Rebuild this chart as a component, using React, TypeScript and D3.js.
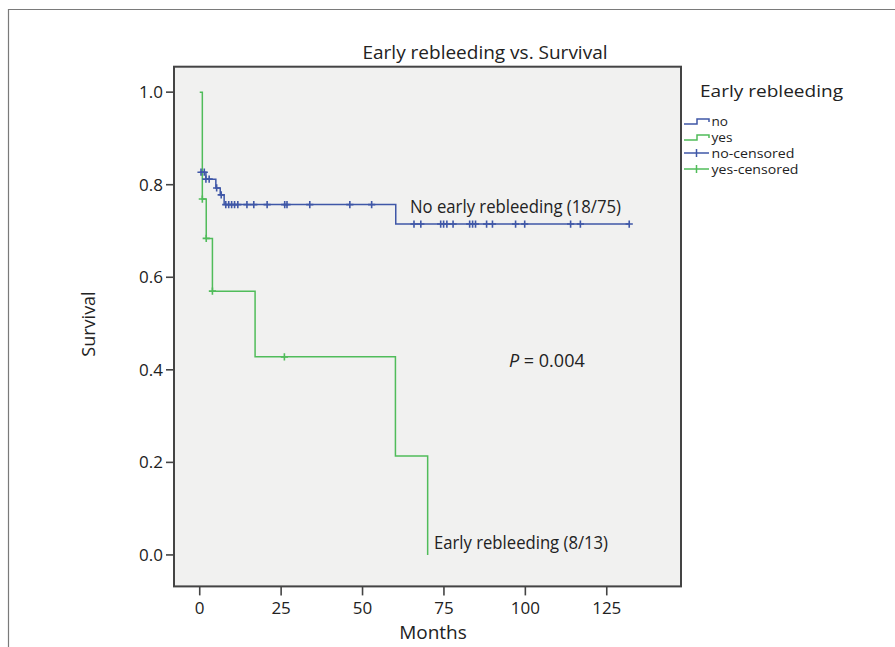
import React from 'react';
import * as d3 from 'd3';

// Kaplan-Meier steps (months, survival after the step)
const noStepTimes = [0, 1.9, 4.95, 6.3, 7.5, 60.2, 131.9];
const noStepSurv = [0.827, 0.812, 0.793, 0.778, 0.757, 0.715, 0.715];
const noCensorTimes = [
  0.4, 1.4, 1.9, 2.9, 5.2, 6.6, 8.0, 8.9, 9.8, 10.7, 11.7, 14.5, 16.6, 20.7, 26.1, 26.8, 33.8, 46.1, 52.8,
  65.8, 67.9, 74.0, 74.9, 75.9, 77.8, 82.9, 83.8, 84.7, 88.1, 89.9, 97.0, 99.8, 113.9, 116.9, 131.9
];

const yesStepTimes = [0, 0.8, 2.0, 3.9, 17.0, 60.1, 70.0];
const yesStepSurv = [1, 0.769, 0.684, 0.57, 0.428, 0.214, 0];
const yesCensorTimes = [0.8, 2.0, 3.9, 26.0];

const xTicks = [0, 25, 50, 75, 100, 125];
const yTicks = [0, 0.2, 0.4, 0.6, 0.8, 1.0];

const legendItems = ['no', 'yes', 'no-censored', 'yes-censored'];
const legendWidths = [16.5, 21, 83, 87];

const COLORS = {
  no: '#3f57a7',
  yes: '#50bc5a',
  text: '#222',
  axis: '#444',
  panel: '#f1f1f0',
  frame: '#7a7a7a'
};

const FONT = '"Open Sans", "Noto Sans", sans-serif';
const W = 895;
const H = 647;
const plot = { left: 174, top: 66.7, right: 681, bottom: 586.4 };

const x = d3.scaleLinear().domain([-7.9, 147.8]).range([plot.left, plot.right]);
const y = d3.scaleLinear().domain([-0.068, 1.055]).range([plot.bottom, plot.top]);

function survAt(times: number[], surv: number[], t: number) {
  const i = d3.bisectRight(times, t) - 1;
  return surv[Math.max(0, i)];
}

const stepLine = d3
  .line<[number, number]>()
  .x((d) => x(d[0]))
  .y((d) => y(d[1]))
  .curve(d3.curveStepAfter);

function censorPath(cx: number, cy: number, r = 3.6) {
  return `M${cx - r},${cy}h${2 * r}M${cx},${cy - r}v${2 * r}`;
}

function Curve({ times, surv, censors, color }: { times: number[]; surv: number[]; censors: number[]; color: string }) {
  const pts = times.map((t, i) => [t, surv[i]] as [number, number]);
  return (
    <g>
      <path d={stepLine(pts) || ''} fill="none" stroke={color} strokeWidth={1.5} />
      {censors.map((t, i) => (
        <path key={i} d={censorPath(x(t), y(survAt(times, surv, t)))} stroke={color} strokeWidth={1.6} fill="none" />
      ))}
    </g>
  );
}

export default function App() {
  const legendX = 684;
  const legendRows = [125, 141, 157, 173];

  return (
    <svg width={W} height={H} style={{ position: 'absolute', left: 0, top: 0, background: '#fff' }} fontFamily={FONT}>
      {/* outer frame (open to the right and bottom) */}
      <path d={`M8.5,${H}V9.5H${W}`} fill="none" stroke={COLORS.frame} strokeWidth={1.2} />

      <text x={485} y={59} textAnchor="middle" fontSize={19} fill={COLORS.text} textLength={245} lengthAdjust="spacingAndGlyphs">
        Early rebleeding vs. Survival
      </text>

      <rect x={plot.left} y={plot.top} width={plot.right - plot.left} height={plot.bottom - plot.top} fill={COLORS.panel} />

      <Curve times={yesStepTimes} surv={yesStepSurv} censors={yesCensorTimes} color={COLORS.yes} />
      <Curve times={noStepTimes} surv={noStepSurv} censors={noCensorTimes} color={COLORS.no} />

      <rect
        x={plot.left}
        y={plot.top}
        width={plot.right - plot.left}
        height={plot.bottom - plot.top}
        fill="none"
        stroke={COLORS.axis}
        strokeWidth={2}
      />

      {/* y axis */}
      {yTicks.map((v) => (
        <g key={v}>
          <line x1={plot.left - 8} x2={plot.left} y1={y(v)} y2={y(v)} stroke={COLORS.axis} strokeWidth={1.6} />
          <text x={plot.left - 11} y={y(v)} dy="0.35em" textAnchor="end" fontSize={17} fill={COLORS.text}>
            {d3.format('.1f')(v)}
          </text>
        </g>
      ))}
      <text transform={`translate(95,324) rotate(-90)`} textAnchor="middle" fontSize={18} fill={COLORS.text}>
        Survival
      </text>

      {/* x axis */}
      {xTicks.map((v) => (
        <g key={v}>
          <line x1={x(v)} x2={x(v)} y1={plot.bottom} y2={plot.bottom + 9} stroke={COLORS.axis} strokeWidth={1.6} />
          <text x={x(v)} y={614} textAnchor="middle" fontSize={17} fill={COLORS.text}>
            {v}
          </text>
        </g>
      ))}
      <text x={433} y={639} textAnchor="middle" fontSize={19} fill={COLORS.text}>
        Months
      </text>

      {/* annotations */}
      <text x={410} y={212.5} fontSize={18} fill={COLORS.text} textLength={211} lengthAdjust="spacingAndGlyphs">
        No early rebleeding (18/75)
      </text>
      <text x={509} y={366.5} fontSize={18} fill={COLORS.text}>
        <tspan fontStyle="italic">P</tspan>
        <tspan> = 0.004</tspan>
      </text>
      <text x={434} y={548.5} fontSize={18} fill={COLORS.text} textLength={174} lengthAdjust="spacingAndGlyphs">
        Early rebleeding (8/13)
      </text>

      {/* legend */}
      <text x={700} y={97.3} fontSize={17} fill={COLORS.text} textLength={143} lengthAdjust="spacingAndGlyphs">
        Early rebleeding
      </text>
      {legendItems.map((label, i) => {
        const cy = legendRows[i];
        const color = i % 2 === 0 ? COLORS.no : COLORS.yes;
        return (
          <g key={label}>
            {i < 2 ? (
              <path d={`M${legendX},${cy - 1}h13v-5h12v3`} fill="none" stroke={color} strokeWidth={1.5} />
            ) : (
              <g stroke={color} strokeWidth={1.5}>
                <line x1={legendX} x2={legendX + 25} y1={cy - 4} y2={cy - 4} />
                <line x1={legendX + 12.5} x2={legendX + 12.5} y1={cy - 8} y2={cy} />
              </g>
            )}
            <text x={711.5} y={cy + 1} fontSize={12} fill={COLORS.text} textLength={legendWidths[i]} lengthAdjust="spacingAndGlyphs">
              {label}
            </text>
          </g>
        );
      })}
    </svg>
  );
}
